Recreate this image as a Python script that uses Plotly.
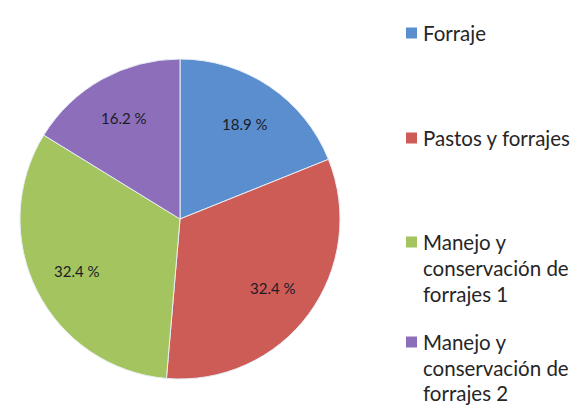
import math
import plotly.graph_objects as go

labels = ["Forraje", "Pastos y forrajes", "Manejo y conservación de forrajes 1", "Manejo y conservación de forrajes 2"]
values = [18.9, 32.4, 32.4, 16.2]
colors = ["#5A8ECF", "#CD5B56", "#A3C45E", "#8C6EBA"]
legend_lines = [["Forraje"], ["Pastos y forrajes"],
                ["Manejo y", "conservación de", "forrajes 1"],
                ["Manejo y", "conservación de", "forrajes 2"]]

W, H = 581, 408
dom_x = [12 / W, 332 / W]
dom_y = [1 - 372 / H, 1 - 50 / H]

fig = go.Figure(go.Pie(
    labels=labels, values=values, sort=False, direction="clockwise", rotation=0,
    marker=dict(colors=colors, line=dict(color="#E8EEF5", width=1)),
    textinfo="none",
    domain=dict(x=dom_x, y=dom_y),
    showlegend=False, hoverinfo="label+percent",
))

annotations, shapes = [], []

# slice value labels placed along each slice's mid-angle (Excel-style)
cx_px = (dom_x[0] + dom_x[1]) / 2 * W
cy_px = (dom_y[0] + dom_y[1]) / 2 * H
r_px = min((dom_x[1] - dom_x[0]) * W, (dom_y[1] - dom_y[0]) * H) / 2
total = sum(values)
cum = 0.0
for v in values:
    mid = 90 - (cum + v / 2) / total * 360
    cum += v
    px = cx_px + 0.72 * r_px * math.cos(math.radians(mid))
    py = cy_px + 0.72 * r_px * math.sin(math.radians(mid))
    annotations.append(dict(text=f"{v:.1f} %", xref="paper", yref="paper",
                            x=px / W, y=py / H, xanchor="center", yanchor="middle",
                            showarrow=False,
                            font=dict(family="Lato", size=15, color="#1C1C26")))

# legend drawn as squares + text
entry_y = [[25], [130], [234, 260, 286], [334, 360, 385]]
for lines, ys, col in zip(legend_lines, entry_y, colors):
    y0 = ys[0]
    shapes.append(dict(type="rect", xref="paper", yref="paper",
                       x0=398 / W, x1=409 / W, y0=1 - (y0 + 5.5) / H, y1=1 - (y0 - 5.5) / H,
                       fillcolor=col, line=dict(width=0)))
    for txt, yy in zip(lines, ys):
        annotations.append(dict(text=txt, xref="paper", yref="paper",
                                x=413 / W, y=1 - yy / H, xanchor="left", yanchor="middle",
                                showarrow=False,
                                font=dict(family="Lato", size=20.5, color="#262626")))

fig.update_layout(width=W, height=H, margin=dict(l=0, r=0, t=0, b=0),
                  paper_bgcolor="white", plot_bgcolor="white",
                  shapes=shapes, annotations=annotations)
fig.write_html("out.html")
